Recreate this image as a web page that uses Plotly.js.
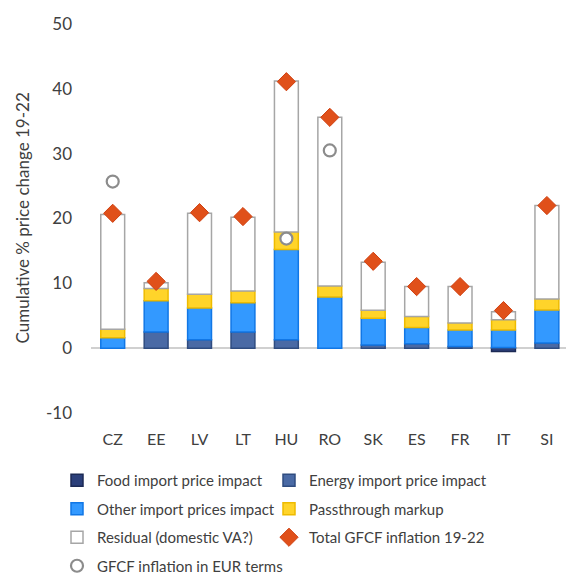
<!DOCTYPE html>
<html>
<head>
<meta charset="utf-8">
<script src="https://cdn.plot.ly/plotly-3.0.1.min.js"></script>
<style>html,body{margin:0;padding:0;background:#fff;}#chart{width:566px;height:574px;}</style>
</head>
<body>
<div id="chart"></div>
<script>
const countries = ["CZ","EE","LV","LT","HU","RO","SK","ES","FR","IT","SI"];
const foodImport   = [0, 0, 0, 0, 0, 0, 0, 0, 0, -0.5, 0];
const energyImport = [0, 2.5, 1.3, 2.5, 1.3, 0, 0.5, 0.7, 0.25, 0.1, 0.8];
const otherImport  = [1.6, 4.8, 4.9, 4.5, 13.9, 7.9, 4.1, 2.5, 2.55, 2.7, 5.1];
const markup       = [1.3, 1.9, 2.1, 1.8, 2.7, 1.7, 1.25, 1.7, 1.1, 1.6, 1.7];
const residual     = [17.7, 0.9, 12.5, 11.4, 23.3, 26.0, 7.4, 4.6, 5.6, 1.2, 14.4];
const totalGFCF    = [20.8, 10.3, 20.9, 20.3, 41.1, 35.6, 13.4, 9.5, 9.5, 5.8, 22.0];
const gfcfEUR      = [25.7, null, null, null, 16.9, 30.5, null, null, null, null, null];
const yTickVals    = [-10, 0, 10, 20, 30, 40, 50];
const yTickText    = ["-10", "0", "10", "20", "30", "40", "50"];
const yTitle       = "Cumulative % price change 19-22";

const FONT = "Lato, 'Liberation Sans', sans-serif";
function barTrace(name, y, fill, line, leg, grp) {
  return {type: "bar", name: name, x: countries, y: y, legend: leg, legendgroup: grp,
          marker: {color: fill, line: {color: line, width: 1.5}},
          hoverinfo: "y+name"};
}
const traces = [
  barTrace("Food import price impact", foodImport, "#2b3f7a", "#1c2a55", "legend", "g1"),
  barTrace("Energy import price impact", energyImport, "#4a6aa5", "#2f4c80", "legend2", "g2"),
  barTrace("Other import prices impact", otherImport, "#3399ff", "#1177e6", "legend", "g3"),
  barTrace("Passthrough markup", markup, "#ffd42a", "#eebb00", "legend2", "g4"),
  barTrace("Residual (domestic VA?)", residual, "#ffffff", "#a6a6a6", "legend", "g5"),
  {type: "scatter", mode: "markers", name: "Total GFCF inflation 19-22", x: countries, y: totalGFCF,
   legend: "legend2", legendgroup: "g6",
   marker: {symbol: "diamond", size: 14, color: "#e0501a", line: {color: "#d04010", width: 1}}},
  {type: "scatter", mode: "markers", name: "GFCF inflation in EUR terms", x: countries, y: gfcfEUR,
   legend: "legend", legendgroup: "g7",
   marker: {symbol: "circle", size: 12, color: "#ffffff", line: {color: "#8c8c8c", width: 2.2}}}
];

const legendBase = {orientation: "v", xref: "container", yref: "container", y: 1 - 464/574,
           xanchor: "left", yanchor: "top",
           font: {family: FONT, size: 15, color: "#404040"}, traceorder: "grouped",
           itemwidth: 30, tracegroupgap: 6, bgcolor: "rgba(0,0,0,0)"};

const layout = {
  width: 566, height: 574,
  margin: {l: 91, r: 0, t: 24, b: 161, pad: 0, autoexpand: false},
  paper_bgcolor: "#ffffff", plot_bgcolor: "#ffffff",
  barmode: "relative", bargap: 0.45,
  font: {family: FONT, color: "#404040", size: 16},
  showlegend: true,
  legend: Object.assign({}, legendBase, {x: 57/566}),
  legend2: Object.assign({}, legendBase, {x: 269/566}),
  xaxis: {type: "category", range: [-0.5, 10.44], showgrid: false, showline: false,
          zeroline: false, ticks: "", ticklabelstandoff: 15, automargin: false,
          tickfont: {family: FONT, size: 16, color: "#404040"}, fixedrange: true},
  yaxis: {range: [-10, 50], tickmode: "array", tickvals: yTickVals, ticktext: yTickText,
          showgrid: false, showline: false, automargin: false,
          zeroline: true, zerolinecolor: "#d0d0d0", zerolinewidth: 1.5,
          ticks: "", ticklabelstandoff: 18,
          tickfont: {family: FONT, size: 17, color: "#404040"}, fixedrange: true},
  annotations: [{text: yTitle, textangle: -90, xref: "paper", yref: "paper",
                 x: (22 - 91) / 475, y: 0.5, xanchor: "center", yanchor: "middle",
                 showarrow: false, font: {family: FONT, size: 17, color: "#404040"}}]
};
Plotly.newPlot("chart", traces, layout, {displayModeBar: false, staticPlot: true});
</script>
</body>
</html>
